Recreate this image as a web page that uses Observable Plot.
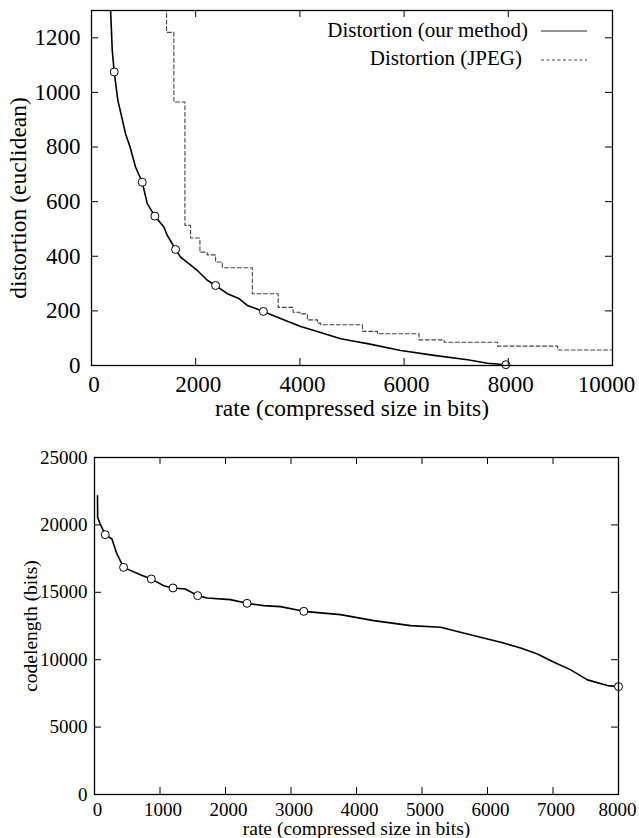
<!DOCTYPE html>
<html>
<head>
<meta charset="utf-8">
<script src="https://cdn.jsdelivr.net/npm/d3@7"></script>
<script src="https://cdn.jsdelivr.net/npm/@observablehq/plot@0.6"></script>
<style>
  body { margin: 0; background: white; }
  #wrap { position: relative; width: 639px; height: 838px; background: white; }
  #wrap svg { display: block; }
  #legend { position: absolute; left: 0; top: 0; }
</style>
</head>
<body>
<div id="wrap"></div>
<script>
// ---- Top chart: distortion vs rate ----
const distRate  = [360, 398, 436, 505, 580, 653, 740, 845, 974, 1070, 1216, 1389, 1454, 1614, 1710, 2031, 2223, 2382, 2607, 2830, 2991, 3299, 3567, 4015, 4271, 4784, 5040, 5297, 5937, 6577, 7218, 7602, 7954];
const distValue = [1330, 1155, 1075, 972, 910, 849, 800, 727, 671, 593, 547, 507, 477, 425, 397, 348, 312, 293, 263, 245, 220, 198, 177, 143, 128, 98, 89, 80, 55, 37, 21, 8, 3];
const distMarkRate  = [436, 974, 1216, 1614, 2382, 3299, 7954];
const distMarkValue = [1075, 671, 547, 425, 293, 198, 3];
const jpegRate  = [1300, 1441, 1581, 1793, 1902, 2081, 2220, 2382, 2511, 3087, 3583, 3870, 4000, 4144, 4336, 4400, 5201, 5489, 6288, 6769, 7794, 8947, 10000];
const jpegValue = [1500, 1220, 965, 513, 467, 415, 405, 379, 358, 263, 213, 195, 189, 167, 155, 149, 125, 116, 94, 85, 71, 57, 57];
const topXTicks = [0, 2000, 4000, 6000, 8000, 10000];
const topYTicks = [0, 200, 400, 600, 800, 1000, 1200];
const topXLabel = "rate (compressed size in bits)";
const topYLabel = "distortion (euclidean)";
const legendLabels = ["Distortion (our method)", "Distortion (JPEG)"];

// ---- Bottom chart: codelength vs rate ----
const codeRate  = [46, 48, 87, 164, 266, 342, 444, 699, 867, 1055, 1198, 1386, 1575, 1718, 2074, 2329, 2583, 2838, 3195, 3755, 4264, 4825, 5284, 5692, 6201, 6507, 6762, 7016, 7271, 7526, 7832, 8000];
const codeValue = [22165, 20556, 20067, 19274, 18955, 17843, 16850, 16308, 15990, 15493, 15323, 15249, 14752, 14581, 14455, 14181, 14010, 13936, 13588, 13343, 12898, 12528, 12402, 11912, 11290, 10874, 10429, 9807, 9244, 8502, 8080, 8006];
const codeMarkRate  = [164, 444, 867, 1198, 1575, 2329, 3195, 8000];
const codeMarkValue = [19274, 16850, 15990, 15323, 14752, 14181, 13588, 8006];
const botXTicks = [0, 1000, 2000, 3000, 4000, 5000, 6000, 7000, 8000];
const botYTicks = [0, 5000, 10000, 15000, 20000, 25000];
const botXLabel = "rate (compressed size in bits)";
const botYLabel = "codelength (bits)";

(function () {
const zip = (xs, ys) => xs.map((x, i) => ({x, y: ys[i]}));
const FONT = "'Liberation Serif', 'Times New Roman', serif";

function chart({width, height, mt, mr, mb, ml, xDomain, yDomain, xTicks, yTicks, fs, lfs, xPad, yPad, xDx, lastDx, xLab, yLab, xLabDy, yLabDx, yLabDy, tick, marks}) {
  const ph = height - mt - mb, pw = width - ml - mr;
  const fmt = d3.format("d");
  return Plot.plot({
    width, height,
    marginTop: mt, marginRight: mr, marginBottom: mb, marginLeft: ml,
    x: {domain: xDomain},
    y: {domain: yDomain},
    style: {fontFamily: FONT, fontSize: fs + "px", color: "black", background: "white"},
    marks: [
      ...marks,
      Plot.tickX(xTicks, {x: d => d, insetTop: ph - tick, stroke: "black", strokeWidth: 1}),
      Plot.tickX(xTicks, {x: d => d, insetBottom: ph - tick, stroke: "black", strokeWidth: 1}),
      Plot.tickY(yTicks, {y: d => d, insetRight: pw - tick, stroke: "black", strokeWidth: 1}),
      Plot.tickY(yTicks, {y: d => d, insetLeft: pw - tick, stroke: "black", strokeWidth: 1}),
      Plot.frame({stroke: "black", strokeWidth: 1.3}),
      Plot.axisX({ticks: xTicks.slice(0, -1), tickSize: 0, tickPadding: xPad, label: null, tickFormat: fmt, fontSize: fs, dx: xDx}),
      Plot.axisX({ticks: xTicks.slice(-1), tickSize: 0, tickPadding: xPad, label: null, tickFormat: fmt, fontSize: fs, dx: lastDx}),
      Plot.axisY({ticks: yTicks, tickSize: 0, tickPadding: yPad, label: null, tickFormat: fmt, fontSize: fs}),
      Plot.text([xLab], {text: d => d, frameAnchor: "bottom", dy: xLabDy, lineAnchor: "middle", textAnchor: "middle", fontSize: lfs, fill: "black"}),
      Plot.text([yLab], {text: d => d, frameAnchor: "left", dx: yLabDx, dy: yLabDy, rotate: -90, lineAnchor: "middle", textAnchor: "middle", fontSize: lfs, fill: "black"})
    ]
  });
}

const topChart = chart({
  width: 639, height: 420, mt: 10, mr: 27, mb: 55, ml: 91,
  xDomain: [0, 10000], yDomain: [0, 1300],
  xTicks: topXTicks, yTicks: topYTicks, fs: 23, lfs: 23.5, xPad: 10, yPad: 11, xDx: 2.5, lastDx: -6,
  xLab: topXLabel, yLab: topYLabel, xLabDy: 43, yLabDx: -73, yLabDy: 10, tick: 7,
  marks: [
    Plot.line(zip(jpegRate, jpegValue), {x: "x", y: "y", curve: "step-after", stroke: "#444", strokeWidth: 1.1, strokeDasharray: "4,2.5", clip: true}),
    Plot.line(zip(distRate, distValue), {x: "x", y: "y", stroke: "black", strokeWidth: 1.6, clip: true}),
    Plot.dot(zip(distMarkRate, distMarkValue), {x: "x", y: "y", r: 4, fill: "white", stroke: "black", strokeWidth: 1})
  ]
});

const bottomChart = chart({
  width: 639, height: 418, mt: 37, mr: 21, mb: 44, ml: 94,
  xDomain: [0, 8000], yDomain: [0, 25000],
  xTicks: botXTicks, yTicks: botYTicks, fs: 19, lfs: 19.5, xPad: 7.5, yPad: 7, xDx: 3, lastDx: -1,
  xLab: botXLabel, yLab: botYLabel, xLabDy: 34, yLabDx: -64, yLabDy: 0, tick: 7,
  marks: [
    Plot.line(zip(codeRate, codeValue), {x: "x", y: "y", stroke: "black", strokeWidth: 1.6}),
    Plot.dot(zip(codeMarkRate, codeMarkValue), {x: "x", y: "y", r: 4, fill: "white", stroke: "black", strokeWidth: 1})
  ]
});

const wrap = document.getElementById("wrap");
wrap.appendChild(topChart);
wrap.appendChild(bottomChart);

// legend (inside the top chart, top-right)
const NS = "http://www.w3.org/2000/svg";
const lg = document.createElementNS(NS, "svg");
lg.setAttribute("id", "legend");
lg.setAttribute("width", 639);
lg.setAttribute("height", 80);
lg.style.fontFamily = FONT;
const entries = [
  {label: legendLabels[0], tx: 528, ty: 37, ly: 31, dash: null, stroke: "#222"},
  {label: legendLabels[1], tx: 522, ty: 65, ly: 60, dash: "3,2.5", stroke: "#444"}
];
for (const e of entries) {
  const t = document.createElementNS(NS, "text");
  t.setAttribute("x", e.tx); t.setAttribute("y", e.ty);
  t.setAttribute("text-anchor", "end");
  t.setAttribute("font-size", "21");
  t.setAttribute("fill", "black");
  t.textContent = e.label;
  lg.appendChild(t);
  const l = document.createElementNS(NS, "line");
  l.setAttribute("x1", 541); l.setAttribute("x2", 587);
  l.setAttribute("y1", e.ly); l.setAttribute("y2", e.ly);
  l.setAttribute("stroke", e.stroke); l.setAttribute("stroke-width", 1.2);
  if (e.dash) l.setAttribute("stroke-dasharray", e.dash);
  lg.appendChild(l);
}
wrap.appendChild(lg);
})();
</script>
</body>
</html>
